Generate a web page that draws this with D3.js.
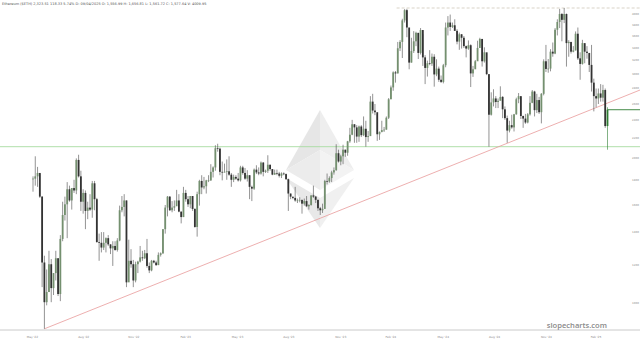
<!DOCTYPE html>
<html>
<head>
<meta charset="utf-8">
<script src="https://cdn.jsdelivr.net/npm/d3@7"></script>
<style>
body { margin: 0; background: #fff; }
svg { display: block; font-family: "DejaVu Sans", sans-serif; }
</style>
</head>
<body>
<svg id="chart"></svg>
<script>
// header line
var headerText = "Ethereum ($ETH) 2,323.51 118.33 5.74% D: 09/04/2025 O: 1,556.99 H: 1,656.81 L: 1,561.72 C: 1,577.64 V: 4009.95";

// one bar every 4 days, starting here
var startDate = "2022-05-29";
var stepDays = 4;

var closes = [
	1810,1830,1860,1660,1210,1000,1050,1200,1070,1150,
	1235,1040,1355,1520,1600,1720,1630,1730,1710,1980,
	1830,1620,1690,1550,1575,1560,1770,1640,1335,1330,
	1300,1330,1360,1320,1295,1310,1285,1345,1555,1580,
	1630,1100,1220,1200,1110,1200,1215,1240,1235,1265,
	1190,1165,1220,1210,1195,1255,1265,1420,1575,1660,
	1555,1575,1585,1630,1545,1505,1690,1640,1600,1665,
	1565,1435,1680,1790,1735,1745,1795,1795,1870,1910,
	2095,2090,1870,1865,1870,1875,1845,1800,1825,1810,
	1795,1910,1860,1810,1840,1740,1725,1890,1865,1855,
	1955,1870,1880,1935,1895,1845,1860,1855,1835,1855,
	1850,1805,1685,1660,1650,1630,1630,1635,1605,1625,
	1585,1595,1670,1660,1635,1570,1555,1565,1790,1785,
	1815,1865,1885,2045,1965,2015,2080,2050,2165,2235,
	2350,2315,2215,2325,2230,2300,2210,2220,2620,2510,
	2490,2240,2265,2285,2290,2425,2650,2805,3015,3000,
	3385,3490,3870,4065,3740,3160,3340,3500,3645,3310,
	3695,3240,3080,3150,3145,3250,2985,3070,2910,2880,
	3120,3740,3830,3750,3780,3680,3495,3620,3560,3420,
	3380,3435,3000,3060,3180,3390,3540,3180,3320,2990,
	2460,2610,2660,2615,2630,2680,2525,2420,2280,2340,
	2315,2465,2650,2690,2445,2415,2370,2465,2605,2750,
	2515,2640,2490,2720,3180,3065,3070,3330,3300,3700,
	3840,3990,3880,3990,3470,3490,3330,3350,3630,3225,
	3140,3470,3330,3310,3125,2870,2690,2660,2725,2670,
	2770,2330,2520
];

var highs = [
	1830,2015,1915,1850,1665,1250,1170,1280,1230,1150,
	1280,1235,1380,1620,1660,1780,1750,1730,1800,1995,
	2030,1880,1720,1710,1620,1680,1790,1790,1650,1390,
	1400,1400,1365,1380,1320,1340,1340,1360,1590,1665,
	1680,1630,1350,1290,1225,1215,1220,1310,1280,1285,
	1355,1210,1225,1225,1220,1270,1270,1420,1595,1665,
	1665,1625,1630,1715,1680,1545,1740,1715,1665,1665,
	1665,1570,1700,1800,1840,1825,1800,1840,1940,1920,
	2125,2140,2100,1965,1945,1985,2015,1860,1845,1840,
	1860,1925,1925,1905,1885,1840,1750,1900,1930,1910,
	1965,1960,1890,2025,1935,1895,1890,1890,1870,1865,
	1865,1855,1810,1685,1655,1740,1645,1655,1620,1645,
	1665,1600,1670,1750,1665,1635,1580,1605,1800,1855,
	1830,1880,1910,2135,2080,2030,2130,2080,2170,2310,
	2400,2350,2340,2335,2340,2440,2390,2275,2690,2720,
	2590,2465,2270,2390,2320,2440,2665,2830,3030,3035,
	3490,3520,3900,4085,4090,3720,3560,3675,3665,3645,
	3730,3620,3275,3190,3355,3300,3290,3210,3100,2970,
	3140,3830,3950,3980,3830,3890,3710,3650,3625,3590,
	3430,3515,3450,3110,3200,3510,3560,3540,3400,3300,
	2970,2740,2780,2690,2660,2820,2690,2560,2450,2390,
	2460,2470,2670,2730,2680,2450,2470,2480,2690,2770,
	2760,2720,2680,2730,3210,3440,3215,3370,3480,3730,
	3890,4090,4010,4107,4000,3520,3470,3420,3670,3740,
	3320,3525,3450,3420,3290,3440,2925,2790,2790,2850,
	2840,2790,2550
];

var lows = [
	1700,1750,1740,1650,1075,880,985,1050,1000,1035,
	1110,1030,1005,1340,1480,1360,1620,1560,1690,1680,
	1820,1550,1530,1420,1490,1550,1500,1555,1330,1220,
	1270,1285,1270,1310,1260,1190,1280,1275,1340,1540,
	1510,1075,1190,1180,1075,1100,1150,1210,1220,1230,
	1180,1150,1160,1205,1190,1195,1245,1260,1390,1510,
	1550,1540,1550,1615,1540,1460,1505,1620,1580,1570,
	1550,1430,1370,1590,1680,1720,1685,1780,1790,1820,
	1880,2060,1840,1795,1865,1800,1835,1740,1780,1800,
	1785,1785,1845,1800,1785,1640,1625,1715,1850,1840,
	1845,1830,1860,1860,1880,1840,1845,1840,1820,1815,
	1840,1800,1550,1640,1640,1620,1610,1615,1530,1590,
	1580,1560,1590,1650,1610,1550,1520,1535,1600,1760,
	1775,1780,1845,1880,1955,1930,1940,2010,2020,2150,
	2230,2150,2150,2160,2210,2220,2110,2160,2235,2475,
	2455,2170,2180,2260,2265,2290,2410,2650,2760,2870,
	3000,3340,3230,3830,3570,3060,3160,3310,3420,3215,
	3285,3110,2850,2955,3120,3110,2815,2960,2880,2865,
	2860,3090,3600,3680,3730,3680,3450,3360,3380,3390,
	3240,3360,2810,2950,3080,3190,3420,3100,3160,2975,
	2110,2450,2560,2540,2540,2650,2420,2400,2150,2260,
	2300,2270,2460,2600,2410,2310,2355,2360,2450,2600,
	2440,2480,2470,2360,2700,3020,3010,3030,3250,3290,
	3600,3730,3500,3820,3100,3250,3300,3320,3350,3200,
	2910,3130,3150,3220,3020,2750,2500,2550,2590,2620,
	2620,2310,2080
];

// axis ticks
var tickDates = ["2022-05-27","2022-08-25","2022-11-21","2023-02-20","2023-05-22","2023-08-20",
	"2023-11-19","2024-02-15","2024-05-17","2024-08-15","2024-11-14","2025-02-09"];
var tickLabels = ["May '22","Aug '22","Nov '22","Feb '23","May '23","Aug '23",
	"Nov '23","Feb '24","May '24","Aug '24","Nov '24","Feb '25"];
var priceTicks = [1000,1200,1400,1600,1800,2000,2200,2400,2600,2800,3000,3200,3400,3600,3800,4000];

// drawn lines
var supportPrice = 2110;
var resistancePrice = 4107;
var resistanceStart = "2024-02-26";
var trendDates = ["2022-06-18", "2025-04-29"];
var trendPrices = [880, 2773];

var width = 640, height = 341;
var plotBottom = 330;

var parse = d3.timeParse("%Y-%m-%d");
var start = parse(startDate);

var bars = closes.map(function(c, i) {
	return {
		date: d3.timeDay.offset(start, i * stepDays),
		open: i === 0 ? c : closes[i - 1],
		close: c,
		high: highs[i],
		low: lows[i]
	};
});

var xscale = d3.scaleTime()
	.domain([start, bars[bars.length - 1].date])
	.range([33, 607.5]);
var yscale = d3.scaleLog()
	.domain([875, 4268])
	.range([plotBottom, 0]);

var svg = d3.select("#chart")
	.attr("width", width)
	.attr("height", height);

svg.append("rect").attr("width", width).attr("height", height).attr("fill", "#fff");

// ethereum watermark
var logo = svg.append("g").attr("transform", "translate(320,110)");
var lw = 34, lh1 = 60, lh2 = 80, lmid = 40, lb = 88, lt = 118;
var facets = [
	{ pts: [[0,0],[-lw,lh1],[0,lmid]], fill: "#e6e6e6" },
	{ pts: [[0,0],[lw,lh1],[0,lmid]], fill: "#eeeeee" },
	{ pts: [[-lw,lh1],[0,lmid],[0,lh2]], fill: "#ececec" },
	{ pts: [[lw,lh1],[0,lmid],[0,lh2]], fill: "#f3f3f3" },
	{ pts: [[-lw,lh1 + 8],[0,lb],[0,lt]], fill: "#e8e8e8" },
	{ pts: [[lw,lh1 + 8],[0,lb],[0,lt]], fill: "#f0f0f0" }
];
logo.selectAll("path")
	.data(facets)
	.enter().append("path")
	.attr("d", function(f) { return d3.line()(f.pts) + "Z"; })
	.attr("fill", function(f) { return f.fill; });

// support / resistance / trend
svg.append("line")
	.attr("x1", 0).attr("x2", width)
	.attr("y1", yscale(supportPrice)).attr("y2", yscale(supportPrice))
	.attr("stroke", "#a8dca0").attr("stroke-width", 0.9);

svg.append("line")
	.attr("x1", xscale(parse(resistanceStart))).attr("x2", width)
	.attr("y1", yscale(resistancePrice)).attr("y2", yscale(resistancePrice))
	.attr("stroke", "#c8c0b0").attr("stroke-width", 0.7)
	.attr("stroke-dasharray", "3,2");

var trend = trendDates.map(function(d, i) { return [xscale(parse(d)), yscale(trendPrices[i])]; });
svg.append("path")
	.attr("d", d3.line()(trend))
	.attr("stroke", "#e89a9a").attr("stroke-width", 0.8).attr("fill", "none");

// x axis
svg.append("line")
	.attr("x1", 0).attr("x2", width)
	.attr("y1", plotBottom).attr("y2", plotBottom)
	.attr("stroke", "#bdbdbd").attr("stroke-width", 0.8);

var xaxis = d3.axisBottom(xscale)
	.tickValues(tickDates.map(parse))
	.tickSize(0)
	.tickFormat(function(d, i) { return tickLabels[i]; });
svg.append("g")
	.attr("transform", "translate(0," + (plotBottom + 3) + ")")
	.call(xaxis)
	.call(function(g) { g.select(".domain").remove(); })
	.selectAll("text")
		.attr("font-size", 2.9)
		.attr("fill", "#888")
		.attr("font-family", "DejaVu Sans");

// y axis labels on the right
var yaxis = d3.axisRight(yscale)
	.tickValues(priceTicks)
	.tickSize(0)
	.tickFormat(d3.format("d"));
svg.append("g")
	.attr("transform", "translate(629,0)")
	.call(yaxis)
	.call(function(g) { g.select(".domain").remove(); })
	.selectAll("text")
		.attr("font-size", 2.7)
		.attr("fill", "#888")
		.attr("font-family", "DejaVu Sans");

// candles
var bw = 1.8;
var last = bars.length - 1;
var candle = svg.append("g").selectAll("g")
	.data(bars)
	.enter().append("g");
candle.append("line")
	.attr("x1", function(d) { return xscale(d.date); })
	.attr("x2", function(d) { return xscale(d.date); })
	.attr("y1", function(d) { return yscale(d.high); })
	.attr("y2", function(d) { return yscale(d.low); })
	.attr("stroke", function(d, i) { return i === last ? "#2e7d32" : "#4a4a4a"; })
	.attr("stroke-width", 0.6);
candle.append("rect")
	.attr("x", function(d) { return xscale(d.date) - bw / 2; })
	.attr("width", bw)
	.attr("y", function(d) { return yscale(Math.max(d.open, d.close)); })
	.attr("height", function(d) { return Math.max(0.7, Math.abs(yscale(d.open) - yscale(d.close))); })
	.attr("fill", function(d, i) {
		if (i === last) return "#2e7d32";
		return d.close >= d.open ? "#74906f" : "#333";
	});

// last price line
var lastPrice = closes[last];
svg.append("line")
	.attr("x1", xscale(bars[last].date)).attr("x2", width)
	.attr("y1", yscale(lastPrice)).attr("y2", yscale(lastPrice))
	.attr("stroke", "#2e7d32").attr("stroke-width", 0.9);

// header
svg.append("text")
	.attr("x", 2).attr("y", 4.5)
	.attr("font-size", 3.5)
	.attr("fill", "#555")
	.text(headerText);

// watermark
svg.append("text")
	.attr("x", 607).attr("y", 328)
	.attr("text-anchor", "end")
	.attr("font-family", "Open Sans")
	.attr("font-weight", 600)
	.attr("font-size", 7.6)
	.attr("fill", "#8a8a8a")
	.text("slopecharts.com");
</script>
</body>
</html>
